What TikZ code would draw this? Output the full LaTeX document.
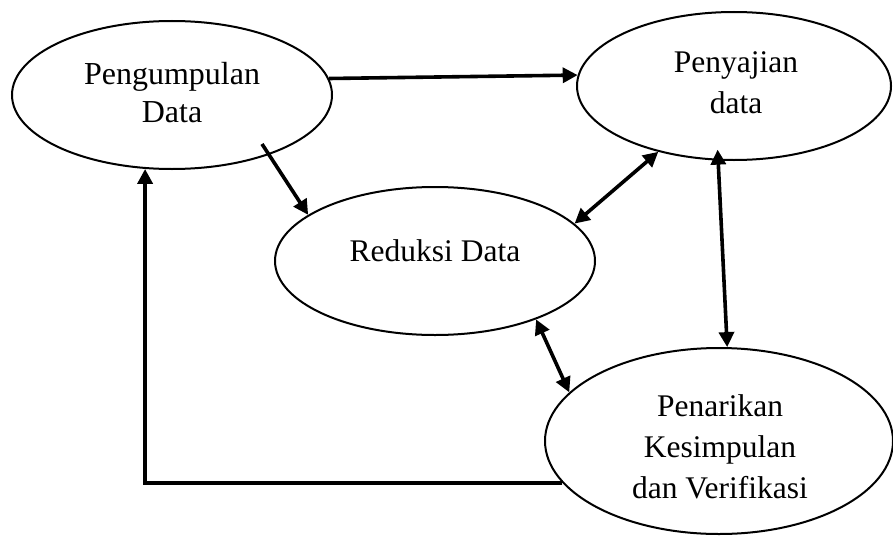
\documentclass[tikz,border=0pt]{standalone}
\usepackage{fontspec}
\setmainfont{Liberation Serif}
\usetikzlibrary{arrows.meta,shapes.geometric}
\begin{document}
\begin{tikzpicture}[x=1pt,y=-1pt,
  bubble/.style={draw,ellipse,line width=2pt,inner sep=0pt},
  lbl/.style={align=center,inner sep=0pt,font=\fontsize{31.5}{41}\selectfont},
  conn/.style={line width=3.6pt,-{Triangle[length=15pt,width=15pt]}},
  both/.style={line width=3.6pt,{Triangle[length=15pt,width=15pt]}-{Triangle[length=15pt,width=15pt]}}]
\useasboundingbox (0,0) rectangle (893,535);
\node[bubble,minimum width=320pt,minimum height=148pt] (e1) at (172,95) {};
\node[bubble,minimum width=314pt,minimum height=148pt] (e2) at (734,86) {};
\node[bubble,minimum width=320pt,minimum height=148pt] (e3) at (435,261) {};
\node[bubble,minimum width=348pt,minimum height=186pt] (e4) at (719,441) {};
\node[lbl,font=\fontsize{32}{38}\selectfont] (t1) at (172,93) {Pengumpulan\\Data};
\node[lbl] (t2) at (736,83) {Penyajian\\data};
\node[lbl] (t3) at (435,251) {Reduksi Data};
\node[lbl] (t4) at (720,446.5) {Penarikan\\Kesimpulan\\dan Verifikasi};
\coordinate (a2s) at (262,144);
\draw[conn] (e1.6) -- (e2.176);
\draw[conn] (a2s) -- (e3.160);
\draw[both] (e2.221) -- (e3.15);
\draw[both,shorten <=-11pt] (e2.258) -- (e4.85);
\draw[both] (e3.330) -- (e4.162);
\draw[conn,line width=4pt] (e4.195) -| (e1.250);
\end{tikzpicture}
\end{document}
